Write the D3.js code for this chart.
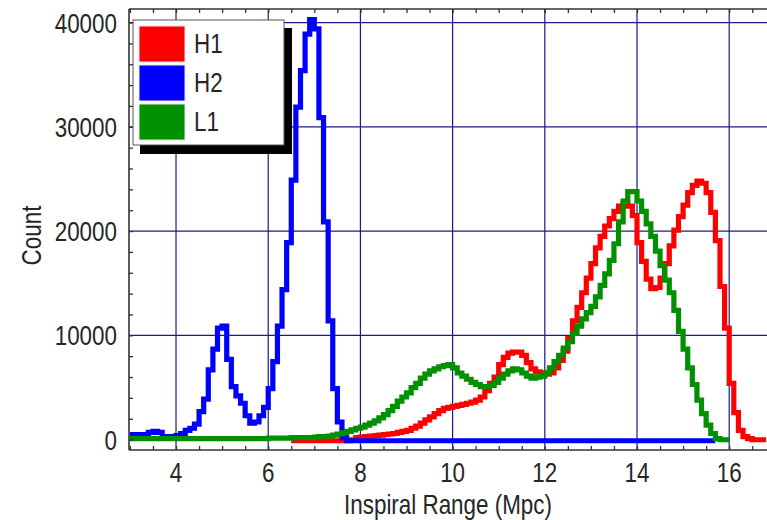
<!DOCTYPE html>
<html>
<head>
<meta charset="utf-8">
<script src="https://cdn.jsdelivr.net/npm/d3@7"></script>
<style>
  html, body { margin: 0; padding: 0; background: #fff; }
  svg text { font-family: "Liberation Sans", Arial, sans-serif; fill: #262626; }
</style>
</head>
<body>
<svg id="chart" width="767" height="520"></svg>
<script>
// ---------- data ----------
const binWidth = 0.1;
const seriesNames = ["H1", "H2", "L1"];
const seriesColors = ["#ff0000", "#0000ff", "#009000"];

// H1 counts, bins starting at 6.5 Mpc
const h1Start = 6.5;
const h1Counts = [
  0,0,0,0,0,0,0,0,0,0,0,0,0,
  100,300,350,400,450,500,550,600,650,700,800,900,1000,1200,1400,1700,2000,2300,
  2600,2900,3100,3200,3300,3400,3500,3600,3700,3900,4200,4800,5500,6100,7300,8000,
  8400,8500,8500,8200,7500,6900,6600,6500,6400,6500,7000,7700,8600,9800,11500,12800,
  14200,15600,17000,18500,19600,20600,21300,22000,22500,22800,22500,21600,19000,17200,
  15500,14600,14700,15600,17000,18700,20200,21500,22600,23800,24500,24900,24700,23800,
  21900,19200,14800,10800,5500,2700,1000,400,200,100,100,100
];

// H2 counts, bins starting at 3.0 Mpc
const h2Start = 3.0;
const h2Counts = [
  600,600,600,600,800,900,800,400,400,400,500,700,1000,1200,1600,2800,4000,6800,8800,
  10800,11000,7800,5200,4300,3600,2400,1700,1800,2400,3200,5000,7600,11000,14500,19000,
  25000,32000,35500,39000,40400,39500,31000,21000,11500,5000,1800,300,
  0,0,0,0,0,0,0,0,0,0,0,0,0,0,0,0,0,0,0,0,0,0,0,0,0,0,0,0,0,0,0,0,0,0,0,0,0,0,0,0,
  0,0,0,0,0,0,0,0,0,0,0,0,0,0,0,0,0,0,0,0,0,0,0,0,0,0,0,0,0,0,0,0,0,0,0,0,0,0,0,0
];

// L1 counts, bins starting at 3.0 Mpc
const l1Start = 3.0;
const l1Counts = [
  200,200,200,200,200,200,200,200,200,200,200,200,200,200,200,200,200,200,200,200,
  200,200,200,200,200,200,200,200,200,200,250,250,250,250,250,300,300,300,300,300,
  350,400,400,450,550,650,750,900,1050,1200,1300,1500,1700,1900,2200,2500,2900,3300,
  3800,4200,4600,5100,5500,6000,6400,6700,6900,7100,7200,7300,7000,6500,6200,5900,5600,
  5400,5200,5200,5300,5600,6000,6400,6700,6900,6800,6500,6200,6000,6100,6200,6500,7000,
  7600,8200,8900,9500,10300,11000,11700,12300,12900,13800,14900,16000,17300,18900,21000,
  23000,23900,23900,23000,22000,20800,19600,18200,16800,15400,14200,12500,10500,8800,
  7000,5400,3900,2600,1500,700,200,100,100
];

const xTickValues = [4, 6, 8, 10, 12, 14, 16];
const yTickValues = [0, 10000, 20000, 30000, 40000];
const xLabel = "Inspiral Range (Mpc)";
const yLabel = "Count";

// ---------- layout ----------
const svg = d3.select("#chart");
const x = d3.scaleLinear().domain([2.98, 16.82]).range([129, 767]);
const y = d3.scaleLinear().domain([-1000, 41300]).range([450, 9]);
const [x0, x1] = x.range();
const [yb, yt] = y.range();
const FS = 27, SX = 0.83; // condensed text look

function addText(parent, tx, ty, str, anchor, size, rot) {
  return parent.append("text")
    .attr("transform", `translate(${tx},${ty}) rotate(${rot || 0}) scale(${SX},1)`)
    .attr("text-anchor", anchor).attr("font-size", size).text(str);
}

svg.append("defs").append("clipPath").attr("id", "plotclip")
  .append("rect").attr("x", x0).attr("y", yt).attr("width", x1 - x0).attr("height", yb - yt);

// grid
const grid = svg.append("g").attr("stroke", "#1a1a8a").attr("stroke-width", 1.2);
xTickValues.forEach(v => grid.append("line")
  .attr("x1", x(v)).attr("x2", x(v)).attr("y1", yt).attr("y2", yb));
yTickValues.filter(v => v > 0).forEach(v => grid.append("line")
  .attr("x1", x0).attr("x2", x1).attr("y1", y(v)).attr("y2", y(v)));

// series (histogram steps)
function stepPoints(start, counts) {
  const pts = counts.map((c, i) => [start + i * binWidth, c]);
  pts.push([start + counts.length * binWidth, counts[counts.length - 1]]);
  return pts;
}
const line = d3.line().x(d => x(d[0])).y(d => y(d[1])).curve(d3.curveStepAfter);
const plot = svg.append("g").attr("clip-path", "url(#plotclip)");
const allSeries = [
  { start: h1Start, counts: h1Counts, color: seriesColors[0] },
  { start: h2Start, counts: h2Counts, color: seriesColors[1] },
  { start: l1Start, counts: l1Counts, color: seriesColors[2] }
];
allSeries.forEach(s => plot.append("path")
  .attr("d", line(stepPoints(s.start, s.counts)))
  .attr("fill", "none").attr("stroke", s.color)
  .attr("stroke-width", 5.2).attr("stroke-linejoin", "miter").attr("stroke-linecap", "butt")
  .attr("transform", "translate(0,1.2)"));

// axes frame
const axisColor = "#333";
svg.append("line").attr("x1", x0).attr("x2", x1).attr("y1", yb).attr("y2", yb)
  .attr("stroke", axisColor).attr("stroke-width", 1.6);
svg.append("line").attr("x1", x0).attr("x2", x1).attr("y1", yt).attr("y2", yt)
  .attr("stroke", axisColor).attr("stroke-width", 1.6);
svg.append("line").attr("x1", x0).attr("x2", x0).attr("y1", yt).attr("y2", yb)
  .attr("stroke", axisColor).attr("stroke-width", 1.6);

// minor ticks (inward) via d3 axes
const xMinor = d3.range(3, 16.81, 0.5);
const yMinor = d3.range(0, 41001, 2000);
const bottomAxis = d3.axisTop(x).tickValues(xMinor).tickSize(4).tickFormat("");
const topAxis = d3.axisBottom(x).tickValues(xMinor).tickSize(4).tickFormat("");
const leftAxis = d3.axisRight(y).tickValues(yMinor).tickSize(4).tickFormat("");
[[bottomAxis, `translate(0,${yb})`], [topAxis, `translate(0,${yt})`], [leftAxis, `translate(${x0},0)`]]
  .forEach(([ax, tr]) => {
    const g = svg.append("g").attr("transform", tr).call(ax);
    g.select(".domain").remove();
    g.selectAll(".tick line").attr("stroke", axisColor).attr("stroke-width", 1.3);
  });

// tick labels
const xt = svg.append("g");
xTickValues.forEach(v => addText(xt, x(v), 482, v, "middle", FS));
const yl = svg.append("g");
yTickValues.forEach(v => addText(yl, 117, y(v) + 10, v, "end", FS));

// axis titles
addText(svg, 448, 514, xLabel, "middle", FS);
addText(svg, 41, (yt + yb) / 2 + 6, yLabel, "middle", FS, -90);

// legend
const lg = svg.append("g");
lg.append("rect").attr("x", 140).attr("y", 28).attr("width", 152).attr("height", 126).attr("fill", "#000");
lg.append("rect").attr("x", 133).attr("y", 20).attr("width", 151).attr("height", 125)
  .attr("fill", "#fff").attr("stroke", "#555").attr("stroke-width", 1);
seriesNames.forEach((name, i) => {
  lg.append("rect").attr("x", 139).attr("y", 26 + i * 39).attr("width", 46).attr("height", 36)
    .attr("fill", seriesColors[i]).attr("stroke", "#e6e6e6").attr("stroke-width", 1);
  addText(lg, 194, 53 + i * 39, name, "start", FS);
});
</script>
</body>
</html>
